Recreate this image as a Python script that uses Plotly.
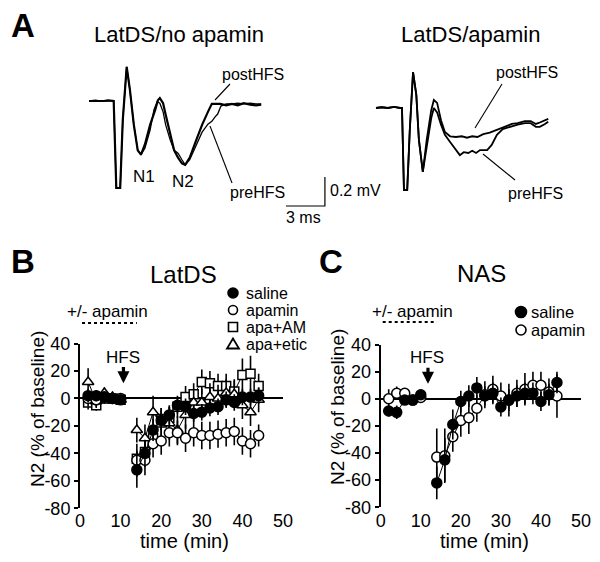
import plotly.graph_objects as go

W, H = 600, 562
FONT = "Liberation Sans, Arial, Helvetica, sans-serif"

# ---------------- Panel A: field potential traces (time in ms, amplitude in mV) -------------
noapa_post_t = [0, 0.5, 0.85, 1.15, 1.45, 1.75, 1.9, 2.1, 2.4, 2.6, 2.9, 3.15, 3.45, 3.75, 4.0,
                4.3, 4.7, 5.1, 5.3, 5.45, 5.7, 5.9, 6.25, 6.55, 6.85, 7.15, 7.4, 7.75, 8.25,
                8.7, 9.15, 9.45, 9.75, 10.1, 10.55, 11.0, 11.45, 11.9, 12.4, 12.85, 13.25]
noapa_post_v = [0, 0, -0.005, 0, 0.005, 0, 0, -0.6, -0.6, -0.13, 0.235, 0.075, -0.165, -0.34, -0.37,
                -0.30, -0.165, -0.06, 0.005, 0.02, -0.015, -0.095, -0.235, -0.34, -0.39, -0.43, -0.44, -0.39, -0.27,
                -0.165, -0.075, -0.02, -0.02, -0.02, -0.03, -0.02, -0.03, -0.015, -0.025, -0.03, -0.025]
noapa_pre_t = [0, 0.5, 0.85, 1.15, 1.45, 1.75, 1.9, 2.1, 2.4, 2.6, 2.9, 3.15, 3.45, 3.75, 4.0,
               4.3, 4.7, 5.0, 5.25, 5.45, 5.7, 5.9, 6.25, 6.55, 6.85, 7.15, 7.4, 7.75, 8.25,
               8.7, 9.15, 9.45, 9.7, 9.9, 10.15, 10.55, 11.0, 11.45, 11.9, 12.4, 12.85, 13.25]
noapa_pre_v = [0, 0.005, 0, 0, -0.005, 0, 0, -0.6, -0.6, -0.13, 0.235, 0.075, -0.165, -0.34, -0.37,
               -0.325, -0.2, -0.06, -0.005, -0.015, -0.075, -0.165, -0.27, -0.34, -0.36, -0.405, -0.44, -0.405, -0.305,
               -0.215, -0.16, -0.14, -0.11, -0.09, -0.035, -0.02, -0.02, -0.015, -0.02, -0.015, -0.02, -0.02]

apa_post_t = [0, 0.45, 0.9, 1.4, 1.85, 2.0, 2.15, 2.4, 2.6, 2.85, 3.1, 3.3, 3.6,
              3.9, 4.25, 4.45, 4.7, 5.0, 5.3, 5.7, 6.15, 6.6, 7.0, 7.4, 7.8, 8.25, 8.75,
              9.3, 9.9, 10.45, 10.9, 11.45, 11.9, 12.3, 12.6, 13.0, 13.25]
apa_post_v = [0, 0.005, 0, 0.007, 0, 0, -0.566, -0.566, -0.15, 0.248, 0.09, -0.22, -0.44,
              -0.22, -0.015, 0.055, 0.035, -0.085, -0.165, -0.195, -0.2, -0.195, -0.205, -0.195, -0.2, -0.18, -0.17,
              -0.15, -0.13, -0.11, -0.105, -0.09, -0.09, -0.11, -0.1, -0.085, -0.075]
apa_pre_t = [0, 0.45, 0.9, 1.4, 1.85, 2.0, 2.15, 2.4, 2.6, 2.85, 3.1, 3.3, 3.6,
             3.9, 4.25, 4.45, 4.7, 5.0, 5.3, 5.7, 6.15, 6.45, 6.75, 7.1, 7.4, 7.7, 8.0, 8.55, 8.9,
             9.3, 9.75, 10.3, 10.9, 11.45, 11.9, 12.3, 12.6, 13.0, 13.25]
apa_pre_v = [0, 0.005, 0, 0.007, 0, 0, -0.566, -0.566, -0.15, 0.248, 0.09, -0.22, -0.44,
             -0.255, -0.07, 0, -0.03, -0.115, -0.185, -0.235, -0.29, -0.325, -0.305, -0.31, -0.295, -0.31, -0.29, -0.29, -0.255,
             -0.185, -0.145, -0.13, -0.115, -0.105, -0.105, -0.13, -0.13, -0.11, -0.095]

scalebar_ms = 3
scalebar_mv = 0.2
scalebar_corner = (18.15, -0.724)   # position of the scale bar corner (ms, mV)

# ---------------- Panels B and C: N2 amplitude (% of baseline) ----------------
time_pre = [2, 4, 6, 8, 10]
time_post = [14, 16, 18, 20, 22, 24, 26, 28, 30, 32, 34, 36, 38, 40, 42, 44]
x_ticks = [0, 10, 20, 30, 40, 50]
y_ticks = [-80, -60, -40, -20, 0, 20, 40]
y_tick_labels = ["-80", "-60", "-40", "-20", "0", "20", "40"]
apamin_period = [0.5, 14]
hfs_time_B = 10.7
hfs_time_C = 11.8

# LatDS (panel B)
B_saline_pre = [2, 2, 1, 0, -1]
B_saline_post = [-52, -40, -23, -16, -12, -5, -6, -11, -10, -7, -6, -1, -3, 1, 1, 2]
B_saline_err_pre = [5, 4, 3, 3, 2]
B_saline_err_post = [13, 10, 8, 7, 7, 6, 6, 6, 6, 6, 6, 6, 6, 6, 6, 6]

B_apamin_pre = [0, -1, 1, 0, 0]
B_apamin_post = [-45, -45, -33, -31, -25, -25, -29, -25, -27, -27, -26, -25, -24, -31, -33, -27]
B_apamin_err_pre = [6, 5, 4, 3, 3]
B_apamin_err_post = [12, 11, 10, 10, 10, 9, 10, 10, 10, 10, 10, 10, 10, 10, 10, 8]

B_am_pre = [-3, -5, 0, 0, -1]
B_am_post = [-44, -39, -29, -15, -14, -6, 1, 3, 12, 11, 9, 9, 5, 17, 18, 9]
B_am_err_pre = [5, 4, 4, 3, 3]
B_am_err_post = [6, 8, 8, 8, 8, 8, 8, 8, 9, 9, 9, 9, 9, 12, 13, 9]

B_etic_pre = [12, -2, 4, 1, -1]
B_etic_post = [-23, -29, -10, -19, -18, -23, -12, -3, -3, 1, 0, 4, 3, -5, -10, -1]
B_etic_err_pre = [10, 5, 4, 3, 3]
B_etic_err_post = [9, 10, 12, 12, 12, 10, 10, 10, 10, 10, 10, 10, 10, 10, 10, 9]

# NAS (panel C)
C_saline_pre = [-9, -10, -1, -1, 3]
C_saline_post = [-62, -45, -19, -2, 2, 8, 2, 4, -6, -1, 2, 4, 4, -2, 3, 12]
C_saline_err_pre = [4, 5, 3, 3, 2]
C_saline_err_post = [12, 16, 11, 8, 8, 8, 7, 8, 7, 8, 8, 8, 8, 7, 8, 8]

C_apamin_pre = [0, 4, 4, -1, 1]
C_apamin_post = [-43, -42, -28, -16, -14, -7, 3, 7, 2, -1, 4, 7, 10, 10, 5, 2]
C_apamin_err_pre = [7, 5, 4, 3, 3]
C_apamin_err_post = [21, 20, 11, 12, 12, 10, 10, 10, 10, 12, 10, 12, 10, 10, 10, 16]


def px(x):
    return x / W


def py(y):
    return 1 - y / H


fig = go.Figure()

# ---- panel A traces ----
fig.add_trace(go.Scatter(x=noapa_pre_t, y=noapa_pre_v, mode="lines",
                         line=dict(color="black", width=1.3), xaxis="x3", yaxis="y3", showlegend=False))
fig.add_trace(go.Scatter(x=noapa_post_t, y=noapa_post_v, mode="lines",
                         line=dict(color="black", width=2.2), xaxis="x3", yaxis="y3", showlegend=False))
fig.add_trace(go.Scatter(x=apa_pre_t, y=apa_pre_v, mode="lines",
                         line=dict(color="black", width=1.8), xaxis="x4", yaxis="y4", showlegend=False))
fig.add_trace(go.Scatter(x=apa_post_t, y=apa_post_v, mode="lines",
                         line=dict(color="black", width=1.8), xaxis="x4", yaxis="y4", showlegend=False))
cx, cy = scalebar_corner
fig.add_trace(go.Scatter(x=[cx - scalebar_ms, cx, cx], y=[cy, cy, cy + scalebar_mv], mode="lines",
                         line=dict(color="black", width=1.2), xaxis="x3", yaxis="y3", showlegend=False))


def series(pre, post, err_pre, err_post, symbol, fill, size, xa, ya):
    xs = time_pre + [None] + time_post
    ys = pre + [None] + post
    es = err_pre + [0] + err_post
    fig.add_trace(go.Scatter(
        x=xs, y=ys, mode="lines+markers", xaxis=xa, yaxis=ya, showlegend=False,
        line=dict(color="black", width=1),
        error_y=dict(type="data", array=es, visible=True, color="black", thickness=1.6, width=0),
        marker=dict(symbol=symbol, size=size, color=fill, line=dict(color="black", width=1.5)),
        cliponaxis=False,
    ))


series(B_am_pre, B_am_post, B_am_err_pre, B_am_err_post, "square", "white", 9, "x", "y")
series(B_etic_pre, B_etic_post, B_etic_err_pre, B_etic_err_post, "triangle-up", "white", 10, "x", "y")
series(B_apamin_pre, B_apamin_post, B_apamin_err_pre, B_apamin_err_post, "circle", "white", 10, "x", "y")
series(B_saline_pre, B_saline_post, B_saline_err_pre, B_saline_err_post, "circle", "black", 10, "x", "y")
series(C_apamin_pre, C_apamin_post, C_apamin_err_pre, C_apamin_err_post, "circle", "white", 10, "x2", "y2")
series(C_saline_pre, C_saline_post, C_saline_err_pre, C_saline_err_post, "circle", "black", 10, "x2", "y2")

tickfont = dict(family=FONT, size=18, color="black")


def xax(domain):
    return dict(domain=domain, range=[0, 50], tickvals=x_ticks, showline=False, ticks="",
                showgrid=False, zeroline=False, tickfont=tickfont, fixedrange=True, automargin=False)


def yax(domain, anchor):
    return dict(domain=domain, range=[-80, 40], tickvals=y_ticks, ticktext=y_tick_labels,
                showline=True, linecolor="black",
                linewidth=2, ticks="outside", ticklen=4, tickwidth=1.5, tickcolor="black",
                showgrid=False, zeroline=True, zerolinecolor="black", zerolinewidth=1.6,
                tickfont=tickfont, anchor=anchor, fixedrange=True, automargin=False)


layout = dict(
    width=W, height=H, autosize=False,
    margin=dict(l=0, r=0, t=0, b=0, pad=0, autoexpand=False),
    paper_bgcolor="white", plot_bgcolor="rgba(0,0,0,0)", showlegend=False,
    font=dict(family=FONT, color="black"),
    xaxis=xax([px(80), px(283)]),
    yaxis=yax([py(508.3), py(343.5)], "x"),
    xaxis2=xax([px(380.7), px(581)]),
    yaxis2=yax([py(507.3), py(344.5)], "x2"),
    xaxis3=dict(domain=[px(80), px(340)], range=[-0.692, 19.31], visible=False, fixedrange=True),
    yaxis3=dict(domain=[py(215), py(55)], range=[-0.786, 0.317], visible=False, anchor="x3", fixedrange=True),
    xaxis4=dict(domain=[px(360), px(560)], range=[-1.231, 14.154], visible=False, fixedrange=True),
    yaxis4=dict(domain=[py(215), py(55)], range=[-0.738, 0.3655], visible=False, anchor="x4", fixedrange=True),
)
fig.update_layout(**layout)

ann = []


def text(t, x, y, size, bold=False, xanchor="center", angle=0):
    ann.append(dict(text=("<b>%s</b>" % t) if bold else t, x=px(x), y=py(y), xref="paper", yref="paper",
                    xanchor=xanchor, yanchor="middle", showarrow=False, textangle=angle, borderpad=0,
                    font=dict(family=FONT, size=size, color="black")))


# panel A texts
text("A", 23, 26, 33, bold=True)
text("LatDS/no apamin", 179, 35, 22)
text("LatDS/apamin", 470, 35, 22)
text("postHFS", 253, 75, 16)
text("preHFS", 257, 192, 16)
text("N1", 144, 177, 17)
text("N2", 183, 182, 17)
text("postHFS", 527, 72, 16)
text("preHFS", 535, 193, 16)
text("0.2 mV", 329, 191, 16, xanchor="left")
text("3 ms", 303, 218, 16)

# panel B texts
text("B", 23, 262, 33, bold=True)
text("LatDS", 183, 275, 24)
text("+/- apamin", 107, 311, 17)
text("HFS", 123, 357, 17)
text("N2 (% of baseline)", 37, 409, 19, angle=-90)
text("time (min)", 184, 541, 20)
for label, yy in zip(["saline", "apamin", "apa+AM", "apa+etic"], [293, 310, 327, 344]):
    text(label, 245, yy, 16, xanchor="left")

# panel C texts
text("C", 331, 262, 33, bold=True)
text("NAS", 481, 273, 24)
text("+/- apamin", 412, 311, 17)
text("HFS", 427, 358, 17)
text("N2 (% of baseline)", 337, 407, 19, angle=-90)
text("time (min)", 484, 541, 20)
for label, yy in zip(["saline", "apamin"], [312, 330]):
    text(label, 530, yy, 16.5, xanchor="left")

# HFS arrows
for xa, ya, t in [("x", "y", hfs_time_B), ("x2", "y2", hfs_time_C)]:
    ann.append(dict(x=t, y=11, xref=xa, yref=ya, ax=t, ay=24, axref=xa, ayref=ya, text="",
                    showarrow=True, arrowhead=2, arrowsize=0.75, arrowwidth=3.2, arrowcolor="black"))

fig.update_layout(annotations=ann)

shapes = []
# apamin application period (dotted)
for xa, yy in [("x", 323), ("x2", 322)]:
    shapes.append(dict(type="line", xref=xa, yref="paper", x0=apamin_period[0], x1=apamin_period[1],
                       y0=py(yy), y1=py(yy), line=dict(color="black", width=2, dash="dot")))
# pointer lines in panel A
for (x0, y0, x1, y1) in [(215, 100, 230, 84), (210, 126, 232, 183), (475, 128, 502, 84), (483, 154, 515, 180)]:
    shapes.append(dict(type="line", xref="paper", yref="paper", x0=px(x0), y0=py(y0), x1=px(x1), y1=py(y1),
                       line=dict(color="black", width=1.1)))


def circle_key(x, y, r, fill):
    shapes.append(dict(type="circle", xref="paper", yref="paper", x0=px(x - r), x1=px(x + r),
                       y0=py(y + r), y1=py(y - r), fillcolor=fill, line=dict(color="black", width=1.6)))


circle_key(233, 293, 5, "black")
circle_key(233, 310, 4.5, "white")
shapes.append(dict(type="rect", xref="paper", yref="paper", x0=px(228.5), x1=px(237.5), y0=py(331.5), y1=py(322.5),
                   fillcolor="white", line=dict(color="black", width=1.6)))
shapes.append(dict(type="path", xref="paper", yref="paper",
                   path="M %f %f L %f %f L %f %f Z" % (px(227), py(348.5), px(239), py(348.5), px(233), py(338.5)),
                   fillcolor="white", line=dict(color="black", width=1.8)))
circle_key(521, 312, 5.5, "black")
circle_key(521, 330, 5, "white")
fig.update_layout(shapes=shapes)

fig.write_html("out.html", config={"displayModeBar": False},
               post_script="document.body.style.margin='0px';document.body.style.overflow='hidden';")
